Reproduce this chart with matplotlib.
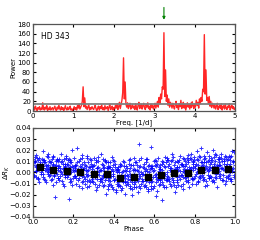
import numpy as np
import matplotlib.pyplot as plt

# periodogram, frequency grid 0..5 in steps of 0.02 1/d
freq_step = 0.02
power = [3, 8, 2, 10, 5, 1, 7, 4, 9, 2, 6, 3, 17, 5, 2, 8, 4, 11, 1, 6, 3, 9, 2, 5, 7,
         2, 6, 10, 3, 1, 8, 4, 12, 5, 2, 9, 3, 7, 1, 5, 11, 4, 2, 8, 3, 6, 10, 2, 4, 1,
         5, 9, 3, 7, 2, 11, 6, 14, 4, 8, 12, 20, 50, 9, 27, 6, 10, 3, 8, 13, 2, 7, 4, 9, 5,
         3, 8, 12, 4, 1, 6, 10, 2, 9, 5, 13, 3, 7, 2, 11, 4, 6, 9, 1, 8, 14, 3, 5, 10, 2,
         7, 4, 12, 6, 15, 3, 9, 18, 5, 13, 22, 38, 110, 25, 60, 14, 8, 17, 5, 11, 16, 4, 9, 13, 6,
         10, 3, 15, 7, 2, 12, 18, 5, 9, 14, 4, 11, 16, 6, 3, 13, 8, 17, 5, 10, 2, 14, 7, 12, 4,
         9, 16, 6, 13, 20, 8, 28, 15, 35, 25, 50, 45, 162, 30, 85, 20, 33, 12, 25, 8, 18, 14, 6, 16, 9,
         4, 13, 20, 7, 11, 3, 15, 9, 22, 5, 12, 18, 6, 14, 2, 10, 17, 8, 13, 4, 16, 7, 19, 11, 5,
         14, 8, 22, 12, 18, 6, 25, 15, 28, 20, 45, 40, 158, 35, 85, 22, 28, 15, 30, 10, 20, 7, 16, 12, 6,
         13, 4, 10, 16, 3, 8, 12, 5, 15, 2, 9, 11, 4, 14, 6, 3, 10, 7, 15, 2, 8, 12, 5, 9, 3, 6]
freq = np.arange(len(power)) * freq_step
threshold = 15
f_main = 3.24

# phases of the observations (x 0.001)
phase = [2, 6, 10, 13, 17, 21, 25, 30, 34, 39,
         43, 47, 51, 55, 60, 64, 68, 72, 76, 80,
         85, 89, 93, 97, 101, 106, 110, 114, 118, 122,
         126, 130, 135, 139, 143, 147, 152, 156, 160, 164,
         168, 172, 176, 181, 185, 189, 193, 198, 202, 206,
         210, 214, 219, 223, 227, 231, 236, 240, 244, 248,
         252, 256, 261, 265, 269, 273, 278, 282, 286, 290,
         294, 298, 302, 307, 311, 315, 319, 323, 328, 332,
         336, 340, 344, 348, 353, 357, 361, 365, 369, 373,
         377, 381, 386, 390, 394, 398, 403, 407, 411, 415,
         419, 423, 428, 432, 436, 440, 444, 449, 453, 457,
         461, 465, 469, 473, 478, 482, 486, 490, 494, 498,
         502, 506, 511, 515, 519, 523, 527, 532, 536, 540,
         544, 548, 553, 557, 561, 565, 569, 573, 578, 582,
         586, 590, 594, 598, 603, 607, 611, 615, 619, 623,
         627, 631, 636, 640, 644, 648, 652, 657, 661, 665,
         669, 673, 677, 682, 686, 690, 694, 698, 703, 707,
         711, 715, 719, 723, 728, 732, 736, 740, 744, 748,
         752, 757, 761, 765, 769, 773, 778, 782, 786, 790,
         794, 798, 803, 807, 811, 815, 819, 823, 828, 832,
         836, 840, 844, 848, 853, 857, 861, 865, 869, 873,
         877, 881, 886, 890, 894, 898, 903, 907, 911, 915,
         919, 923, 928, 932, 936, 940, 944, 949, 953, 957,
         961, 965, 969, 973, 977, 982, 986, 990, 994, 998]

# residuals of three observing runs (x 0.001 mag)
dR_a = [12, -3, 9, 16, 1, 7, -6, 13, 4, -1,
        8, 19, -4, 11, 2, -9, 6, 14, 0, 10,
        -2, 9, 5, -11, 15, 3, -22, 7, 12, -5,
        10, -7, 4, 17, -1, 8, -12, 6, 1, 13,
        -4, 11, -24, 5, 9, -8, 20, 2, -3, 7,
        6, -10, 22, 3, -5, 12, -1, -14, 8, 2,
        9, -6, 2, -13, 15, -2, 5, -9, 11, -4,
        -8, 6, 13, -3, -16, 4, 0, 10, -11, 2,
        17, -5, 7, -12, 1, 11, -19, 4, -7, 9,
        -10, 5, -3, 14, -15, 1, -7, 8, -18, 3,
        2, -12, -4, 8, -16, 0, -9, 6, -19, -2,
        -11, 4, -6, 11, -14, -1, 7, -20, -3, 13,
        -7, 9, -13, 2, -18, 26, -5, 6, -10, -1,
        5, -12, 1, -8, 12, -3, -17, 7, -6, 23,
        -9, 4, -14, 10, -2, -21, 6, -6, 13, -11,
        7, -10, 2, -25, 9, -5, 14, -13, 0, -7,
        11, -6, 4, -12, 17, 1, -9, 7, -18, 3,
        -4, 10, -11, 5, 15, -2, 8, -15, 1, 12,
        6, -8, 13, -3, 9, -13, 3, 17, -5, 8,
        -6, 11, 4, -10, 19, 1, 7, -4, 14, 22,
        9, -7, 15, 2, -12, 6, 18, -2, 11, -5,
        4, 13, -8, 20, 1, 8, -4, 16, -13, 6,
        12, -3, 7, 17, -7, 3, 10, -10, 14, 1,
        8, -5, 15, 2, 11, -8, 19, 4, -2, 10]
dR_b = [7, -2, 10, 1, 5, 13, -5, 3, 9, 0,
        2, 11, 6, -6, 9, 4, 15, -1, 7, 3,
        5, -7, 12, 1, 8, -3, 6, 10, -1, 4,
        -5, 6, 1, 9, -8, 3, 12, -2, 5, 0,
        8, -2, 4, -9, 11, 0, 6, -5, 13, 2,
        -3, 7, 1, -7, 10, -1, 5, 16, -9, 3,
        4, -10, 6, -3, 1, 9, -7, 12, -2, 0,
        3, -9, 7, -4, 11, -1, -13, 5, 1, -6,
        -6, 8, -2, 4, -11, 10, -4, 0, 6, -15,
        5, -8, 1, -13, 7, -3, 10, -6, 2, -10,
        -7, 3, -11, 6, -2, -14, 1, 9, -5, -9,
        1, -9, -3, 8, -12, 4, -6, -15, 2, -1,
        -10, 2, -5, 7, -8, -1, 11, -14, 0, -6,
        -1, 8, -11, 3, -6, 12, -15, 0, -4, 6,
        4, -8, 1, -12, 7, -4, 10, -17, -1, 5,
        -6, 3, -9, 8, -2, -13, 5, -7, 11, -3,
        6, -8, 2, 10, -5, 0, 14, -11, 3, -2,
        -7, 5, 9, -3, 1, -12, 7, 13, -4, 0,
        10, -4, 3, 16, -7, 5, -1, 12, -10, 2,
        5, 14, -3, 8, 0, -8, 11, 3, -5, 9,
        -2, 7, 12, -6, 4, 9, -11, 1, 15, 5,
        8, -4, 11, 2, -9, 6, 17, -1, 4, 12,
        1, 9, -5, 13, 4, -2, 8, 15, -8, 6,
        11, -3, 6, 0, 14, -6, 3, 9, 18, 1]
dR_c = [1, 9, 14, -4, 6, 2, 11, -9, 8, 5,
        12, -1, 4, 9, -7, 7, 1, 17, 3, -3,
        9, 0, -6, 7, 14, -2, 4, -9, 11, 2,
        6, 12, -3, 0, 10, -10, 4, 8, -4, 15,
        0, 7, 12, -6, 3, 9, -11, 5, 1, -3,
        4, -5, 9, 0, -12, 6, 2, -3, 13, -8,
        -4, 7, -1, 13, -8, 2, -12, 5, 8, -6,
        6, -3, 1, -10, 9, -6, 4, 14, -2, -8,
        2, -9, 12, -3, 5, -7, 9, -1, -12, 4,
        -5, 9, -11, 3, -1, 11, -7, 5, -16, 0,
        -9, 5, 0, -12, 7, -6, 10, -3, 2, -8,
        6, -2, -10, 1, -7, 12, -4, -9, 7, -13,
        3, -9, 9, -6, 1, -12, 5, -3, 13, -8,
        -8, 4, -2, 9, -13, 1, 6, -9, 3, -15,
        -12, 6, -4, 2, 11, -9, -1, 8, -7, 1,
        3, -7, 10, -4, -11, 6, -1, 9, -6, 13,
        -4, 8, -10, 4, -1, 11, -7, 2, 9, -13,
        5, -9, 2, 11, -6, 8, -2, -10, 6, 3,
        -5, 8, -2, 11, -9, 0, 13, 4, -6, 9,
        10, -5, 6, -1, 12, 3, -9, 15, -3, 5,
        6, -4, 9, 0, 13, -8, 3, 10, -5, 2,
        -3, 9, 5, -7, 14, 1, 10, -5, 7, 3,
        7, 14, -1, 4, 10, -7, 12, 2, 5, -4,
        4, 12, -2, 8, -6, 15, 1, 10, -4, 7]

# binned means
bin_phase = [0.033, 0.100, 0.167, 0.233, 0.300, 0.367, 0.433, 0.500,
             0.567, 0.633, 0.700, 0.767, 0.833, 0.900, 0.967]
bin_dR = [0.0045, 0.0026, 0.0010, 0.0000, -0.0016, -0.0016, -0.0048, -0.0045,
          -0.0042, -0.0023, -0.0006, -0.0006, 0.0019, 0.0019, 0.0032]

plt.rcParams['font.size'] = 5
plt.rcParams['xtick.direction'] = 'in'
plt.rcParams['ytick.direction'] = 'in'
plt.rcParams['xtick.top'] = True
plt.rcParams['ytick.right'] = True
plt.rcParams['xtick.major.size'] = 2.5
plt.rcParams['ytick.major.size'] = 2.5
plt.rcParams['axes.linewidth'] = 0.9
plt.rcParams['axes.edgecolor'] = '#555555'

fig = plt.figure(figsize=(2.6, 2.4), dpi=100)
ax1 = fig.add_axes([0.127, 0.5375, 0.777, 0.3625])
ax2 = fig.add_axes([0.127, 0.096, 0.777, 0.371])

# periodogram
ax1.plot(freq, power, color='red', lw=1.0, alpha=0.85)
ax1.axhline(threshold, color='gray', lw=1.3)
ax1.set_xlim(0, 5)
ax1.set_ylim(0, 180)
ax1.set_yticks(range(0, 181, 20))
ax1.set_xlabel('Freq. [1/d]', labelpad=0)
ax1.set_ylabel('Power', labelpad=1)
ax1.tick_params(pad=1.5)
ax1.text(0.2, 150, 'HD 343', fontsize=5.5)
ax1.annotate('', xy=(f_main, 183), xytext=(f_main, 220),
             arrowprops=dict(arrowstyle='-|>', color='green', lw=0.8,
                             mutation_scale=4),
             annotation_clip=False)

# phased residuals
ph = np.array(phase) / 1000
for d in (dR_a, dR_b, dR_c):
    ax2.plot(ph, np.array(d) / 1000, '+', color='blue', ms=3.2, mew=0.7,
             alpha=0.8)
ax2.plot(bin_phase, bin_dR, 's', color='black', ms=5)
ax2.set_xlim(0, 1)
ax2.set_ylim(-0.04, 0.04)
ax2.set_yticks(np.arange(-0.04, 0.041, 0.01))
ax2.set_xticks(np.arange(0, 1.01, 0.2))
ax2.set_xlabel('Phase', labelpad=1)
ax2.set_ylabel(r'$\Delta R_K$')
ax2.yaxis.set_label_coords(-0.105, 0.5)
ax2.tick_params(pad=1.5)

fig.savefig('out.png', dpi=100)
